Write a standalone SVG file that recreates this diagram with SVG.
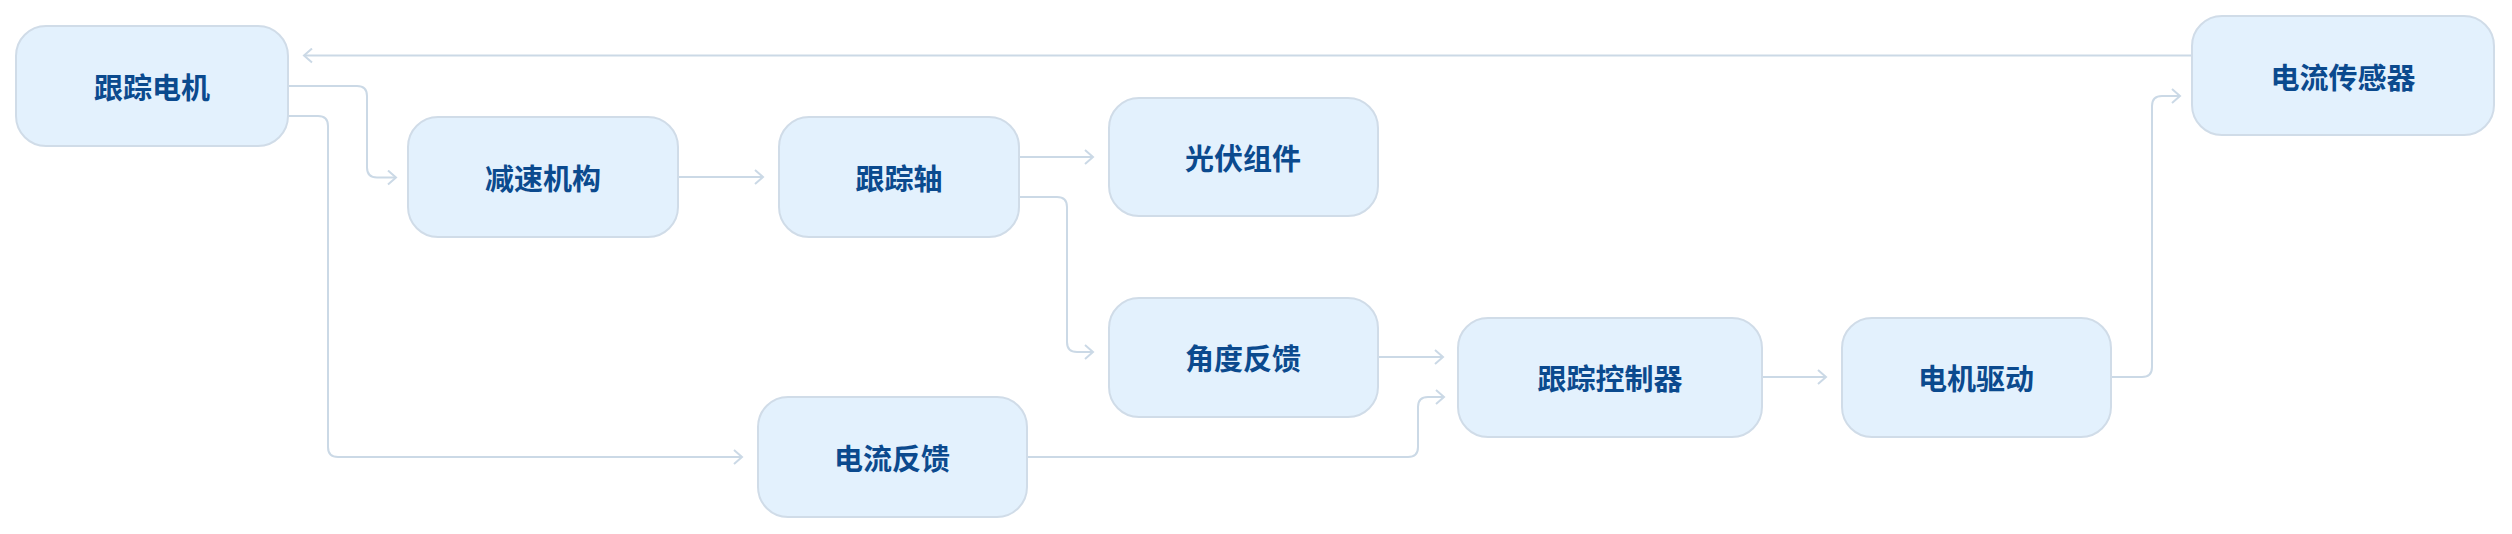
<svg xmlns="http://www.w3.org/2000/svg" width="2512" height="534" viewBox="0 0 2512 534">
<style>
.n rect{fill:#e3f1fd;stroke:#d0dce8;stroke-width:2}
.n text{font-family:"Noto Sans CJK SC","Noto Sans",sans-serif;font-weight:700;font-size:29px;fill:#0b4a8e;text-anchor:middle;dominant-baseline:central}
.e path{fill:none;stroke:#cbd9e6;stroke-width:2;marker-end:url(#a)}
</style>
<defs><marker id="a" markerWidth="12" markerHeight="16" refX="10" refY="8" orient="auto" markerUnits="userSpaceOnUse"><path d="M2,1 L10,8 L2,15" fill="none" stroke="#cbd9e6" stroke-width="2"/></marker></defs>
<rect width="2512" height="534" fill="#fff"/>
<g class="e">
<path d="M2192,55.5 H304"/>
<path d="M288,86 H357 Q367,86 367,96 V167.5 Q367,177.5 377,177.5 H396"/>
<path d="M288,116 H318 Q328,116 328,126 V447 Q328,457 338,457 H742"/>
<path d="M678,177 H763"/>
<path d="M1019,157 H1093"/>
<path d="M1019,197 H1057 Q1067,197 1067,207 V342 Q1067,352 1077,352 H1093"/>
<path d="M1378,357 H1443"/>
<path d="M1027,457 H1408 Q1418,457 1418,447 V407 Q1418,397 1428,397 H1444"/>
<path d="M1762,377 H1826"/>
<path d="M2111,377 H2142 Q2152,377 2152,367 V106 Q2152,96 2162,96 H2180"/>
</g>
<g class="n" id="n1"><rect x="16" y="26" width="272" height="120" rx="30"/><text x="152" y="86">跟踪电机</text></g>
<g class="n" id="n2"><rect x="408" y="117" width="270" height="120" rx="30"/><text x="543" y="177">减速机构</text></g>
<g class="n" id="n3"><rect x="779" y="117" width="240" height="120" rx="30"/><text x="899" y="177">跟踪轴</text></g>
<g class="n" id="n4"><rect x="1109" y="98" width="269" height="118" rx="30"/><text x="1243" y="157">光伏组件</text></g>
<g class="n" id="n5"><rect x="1109" y="298" width="269" height="119" rx="30"/><text x="1243" y="357">角度反馈</text></g>
<g class="n" id="n6"><rect x="758" y="397" width="269" height="120" rx="30"/><text x="892" y="457">电流反馈</text></g>
<g class="n" id="n7"><rect x="1458" y="318" width="304" height="119" rx="30"/><text x="1610" y="377">跟踪控制器</text></g>
<g class="n" id="n8"><rect x="1842" y="318" width="269" height="119" rx="30"/><text x="1976" y="377">电机驱动</text></g>
<g class="n" id="n9"><rect x="2192" y="16" width="302" height="119" rx="30"/><text x="2343" y="76">电流传感器</text></g>
</svg>
